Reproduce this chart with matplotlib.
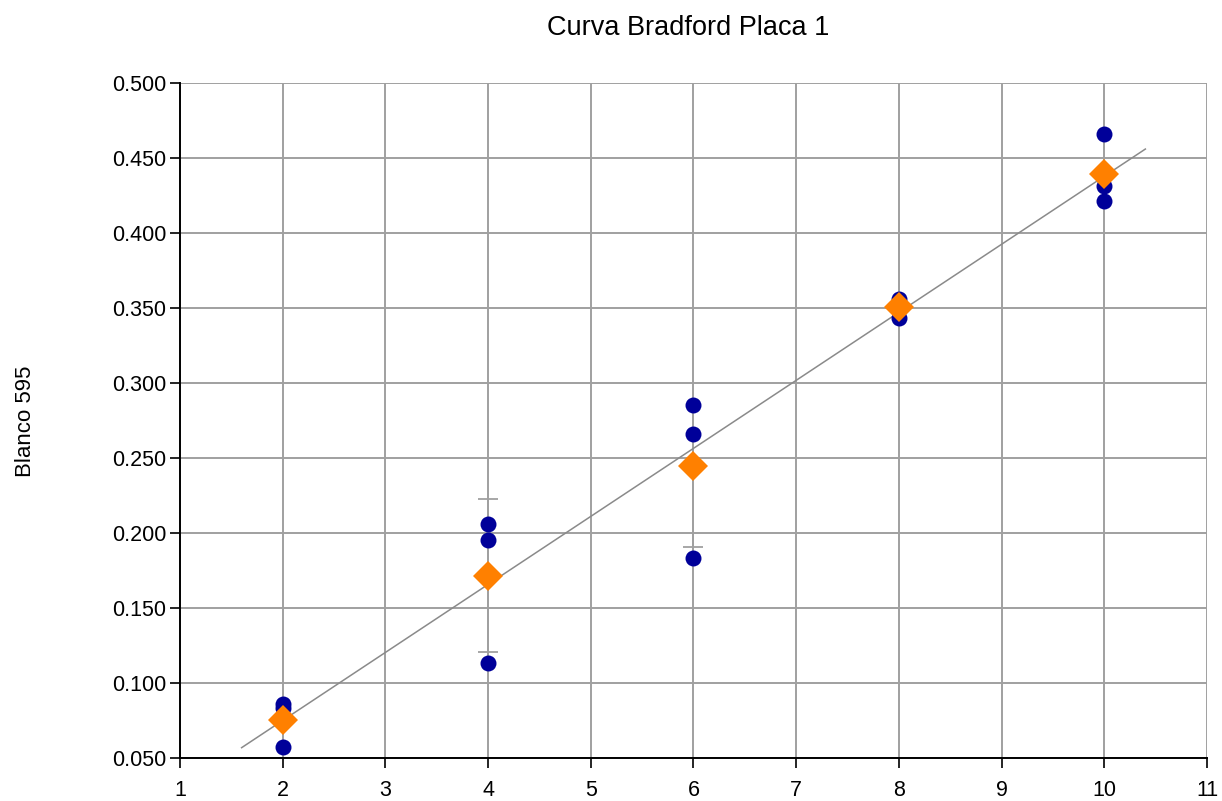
import numpy as np
import matplotlib
matplotlib.use("Agg")
import matplotlib.pyplot as plt

plt.rcParams['font.family'] = ['Liberation Sans', 'DejaVu Sans']

# Data
conc = [2, 4, 6, 8, 10]
replicates = [
    [0.086, 0.083, 0.057],
    [0.206, 0.195, 0.113],
    [0.285, 0.266, 0.183],
    [0.356, 0.352, 0.343],
    [0.466, 0.431, 0.421],
]
err_lower = [0.0, 0.051, 0.054, 0.0, 0.0]
err_upper = [0.0, 0.051, 0.0, 0.0, 0.0]
title = "Curva Bradford Placa 1"
ylabel = "Blanco 595"
xticks = list(range(1, 12))
yticks = [0.05, 0.10, 0.15, 0.20, 0.25, 0.30, 0.35, 0.40, 0.45, 0.50]

means = np.array([np.mean(r) for r in replicates])

fig = plt.figure(figsize=(12.22, 8.01), dpi=100)
ax = fig.add_axes([0.1473, 0.0541, 0.8404, 0.8427])

# Grid
ax.set_axisbelow(True)
ax.grid(True, color='#a0a0a0', linewidth=1.4)

# Trend line (linear regression on means)
slope, intercept = np.polyfit(conc, means, 1)
xl = np.array([min(conc) - 0.4, max(conc) + 0.4])
ax.plot(xl, slope * xl + intercept, color='#8a8a8a', linewidth=1.1, zorder=2)

# Replicate points
for x, reps in zip(conc, replicates):
    ax.plot([x] * len(reps), reps, 'o', color='#000099', markersize=11.5,
            markeredgewidth=0, zorder=3)

# Error bars
_, caps, bars = ax.errorbar(conc, means, yerr=[err_lower, err_upper], fmt='none',
                            ecolor='#a0a0a0', elinewidth=1.4, capsize=7,
                            capthick=1.3, zorder=2.5)
for c in caps:
    c.set_color('#555555')

# Means
ax.plot(conc, means, 'D', color='#ff8000', markersize=15,
        markeredgewidth=0, zorder=4)

ax.set_xlim(1, 11)
ax.set_ylim(0.05, 0.5)
ax.set_xticks(xticks)
ax.set_yticks(yticks)
ax.set_yticklabels([f"{v:.3f}" for v in yticks])
ax.tick_params(axis='both', direction='out', length=7, width=1.2,
               labelsize=15.5, colors='black', pad=3)
ax.tick_params(axis='x', pad=9)

for s in ['top', 'right']:
    ax.spines[s].set_visible(False)
for s in ['left', 'bottom']:
    ax.spines[s].set_color('black')
    ax.spines[s].set_linewidth(1.4)

fig.text(688.5 / 1222, 0.965, title, ha='center', va='center', fontsize=19.5)
fig.text(0.0205, 0.4744, ylabel, rotation=90, ha='center', va='center', fontsize=16)

fig.savefig('out.png', dpi=100)
